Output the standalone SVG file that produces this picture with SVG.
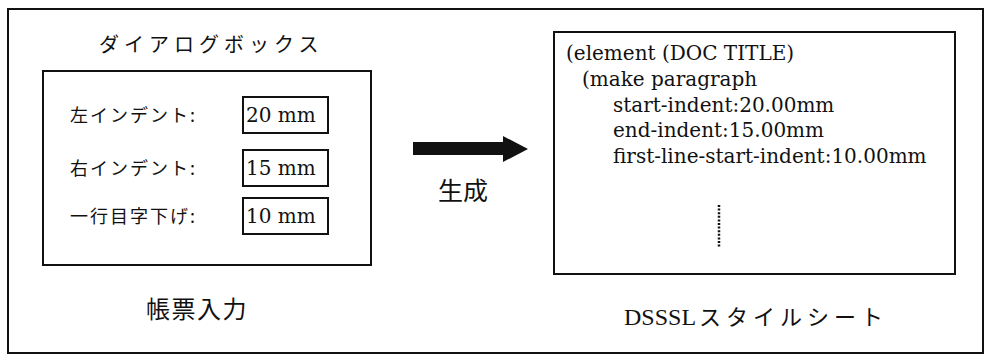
<svg xmlns="http://www.w3.org/2000/svg" width="985" height="355" viewBox="0 0 985 355">
<style>
.frame{fill:none;stroke:#111;stroke-width:2}
.box{fill:#fff;stroke:#111;stroke-width:2}
.jp{font-family:"Noto Sans CJK JP","Noto Sans",sans-serif;fill:#111}
.code{font-family:"DejaVu Serif","Liberation Serif",serif;font-size:20px;fill:#111}
.val{font-family:"DejaVu Serif","Liberation Serif",serif;font-size:20px;fill:#111}
</style>
<rect width="985" height="355" fill="#fff"/>
<rect id="frame" class="frame" x="8" y="9" width="975" height="344"/>
<g id="dialog">
  <text class="jp" x="99" y="52" font-size="20" letter-spacing="5">ダイアログボックス</text>
  <rect class="box" x="43" y="71" width="328" height="194"/>
  <g id="row1">
    <text class="jp" x="70" y="122" font-size="18" letter-spacing="2">左インデント:</text>
    <rect class="box" x="243" y="97" width="85" height="36"/>
    <text class="val" x="246" y="122">20 mm</text>
  </g>
  <g id="row2">
    <text class="jp" x="70" y="175" font-size="18" letter-spacing="2">右インデント:</text>
    <rect class="box" x="243" y="150" width="85" height="36"/>
    <text class="val" x="246" y="175">15 mm</text>
  </g>
  <g id="row3">
    <text class="jp" x="70" y="223" font-size="18" letter-spacing="2">一行目字下げ:</text>
    <rect class="box" x="243" y="198" width="85" height="36"/>
    <text class="val" x="246" y="223">10 mm</text>
  </g>
  <text class="jp" x="146" y="318" font-size="24" letter-spacing="1.5">帳票入力</text>
</g>
<g id="connectors">
  <polygon points="413,142 503,142 503,136 528,149 503,162 503,155 413,155" fill="#111"/>
  <text class="jp" x="438" y="200" font-size="25">生成</text>
</g>
<g id="stylesheet">
  <rect class="box" x="554" y="32" width="401" height="242"/>
  <text class="code" x="566" y="60">(element (DOC TITLE)</text>
  <text class="code" x="582" y="86">(make paragraph</text>
  <text class="code" x="613" y="112">start-indent:20.00mm</text>
  <text class="code" x="613" y="137">end-indent:15.00mm</text>
  <text class="code" x="613" y="163">first-line-start-indent:10.00mm</text>
  <line x1="719" y1="205" x2="719" y2="248" stroke="#111" stroke-width="2.5" stroke-dasharray="2 1.6"/>
  <text x="624" y="325" fill="#111"><tspan font-family="Liberation Serif,serif" font-size="24">DSSSL</tspan><tspan class="jp" font-size="22" letter-spacing="5" dx="3">スタイルシート</tspan></text>
</g>
</svg>
